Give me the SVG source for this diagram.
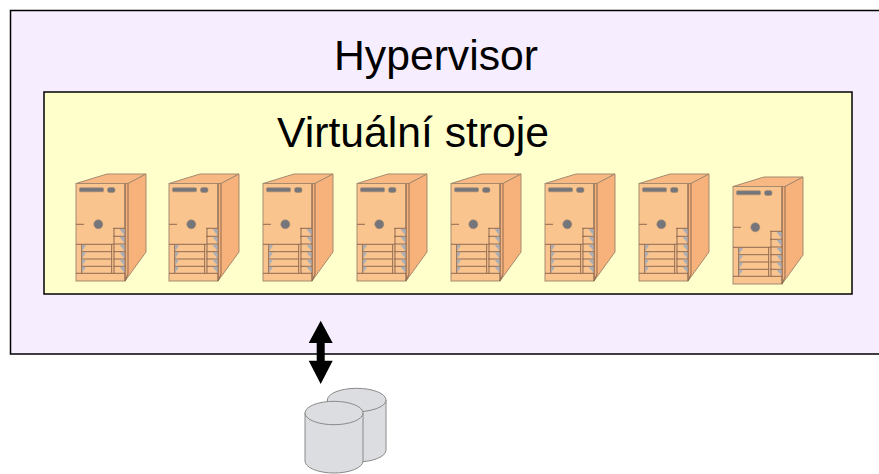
<svg xmlns="http://www.w3.org/2000/svg" xmlns:xlink="http://www.w3.org/1999/xlink" width="879" height="474" viewBox="0 0 879 474">
<style>
text{font-family:"Liberation Sans",Arial,sans-serif;font-size:42.7px;fill:#000}
.p{fill:#fac48f;stroke:#a58a6f;stroke-width:1}
.t{fill:#f8b884;stroke:#a58a6f;stroke-width:1}
.s{fill:#f6b27a;stroke:#a58a6f;stroke-width:1}
.l{fill:none;stroke:#8f6a50;stroke-width:1}
.g{fill:#a9adb5;stroke:none}
.d{fill:#75767c;stroke:#a58a6f;stroke-width:.6}
.c{fill:#dcdde0;stroke:#8a8a8a;stroke-width:1}
</style>
<defs>
<g id="server">
<polygon class="t" points="0,9.5 31,0 70,0 52,9.5"/>
<polygon class="s" points="52,9.5 70,0 70,78 49,107 49,9.5"/>
<rect class="p" x="0" y="9.5" width="49" height="97.5"/>
<path class="l" d="M49 9.500V107M52 9.500V100L49 107"/>
<rect class="d" x="3.500" y="13.800" width="24" height="4" rx="1"/>
<rect class="d" x="31.500" y="13.500" width="7.500" height="5" rx="2"/>
<circle class="d" cx="22.300" cy="50.300" r="4.500"/>
<path class="l" d="M0 50.300H8M0 70.300H37M37 54.300H49M37 62.300H49M37 70H49M37 77.700H49M37 85H49M37 92.300H49M0 99.300H49M5.700 77.700H36M5.700 85H36M5.700 92.300H36M5.700 70.300V99.300M35.700 70.300V99.300M38 54.300V99.300"/>
<path class="g" d="M43.500 55H48.500V61.500ZM43.500 62.800H48.500V69.300ZM43.500 70.800H48.500V77ZM43.500 78.200H48.500V84.500ZM43.500 85.500H48.500V91.800ZM43.500 92.800H48.500V98.800ZM6.200 71H10L6.200 77.200ZM6.200 78.200H10L6.200 84.500ZM6.200 85.500H10L6.200 91.800ZM6.200 92.800H10L6.200 98.800Z"/>
</g>
</defs>
<g id="hypervisor">
<rect x="10.500" y="10.500" width="880" height="343.500" fill="#f6edff" stroke="#000" stroke-width="1.500"/>
<text x="436" y="70" text-anchor="middle">Hypervisor</text>
</g>
<g id="virtual-machines">
<rect x="44" y="92" width="808" height="202" fill="#ffffcc" stroke="#000" stroke-width="1.500"/>
<text x="277" y="147">Virtuální stroje</text>
</g>
<use id="server-1" xlink:href="#server" href="#server" x="76" y="174"/>
<use id="server-2" xlink:href="#server" href="#server" x="169" y="174"/>
<use id="server-3" xlink:href="#server" href="#server" x="263" y="174"/>
<use id="server-4" xlink:href="#server" href="#server" x="357" y="174"/>
<use id="server-5" xlink:href="#server" href="#server" x="451" y="174"/>
<use id="server-6" xlink:href="#server" href="#server" x="545" y="174"/>
<use id="server-7" xlink:href="#server" href="#server" x="639" y="174"/>
<use id="server-8" xlink:href="#server" href="#server" x="733" y="177"/>
<g id="storage">
<path class="c" d="M327.400 400A29.300 11.700 0 0 1 386 400V450A29.300 12 0 0 1 327.400 450Z"/>
<path class="c" d="M327.400 400A29.300 11.700 0 0 0 386 400" fill="none"/>
<path class="c" d="M305 413A29 11.700 0 0 1 363 413V461A29 12 0 0 1 305 461Z"/>
<path class="c" d="M305 413A29 11.700 0 0 0 363 413"/>
</g>
<g id="connectors">
<polygon fill="#000" points="320.700,320.700 332.700,343 324.700,343 324.700,360.700 332.700,360.700 320.700,384 308.700,360.700 316.700,360.700 316.700,343 308.700,343"/>
</g>
</svg>
